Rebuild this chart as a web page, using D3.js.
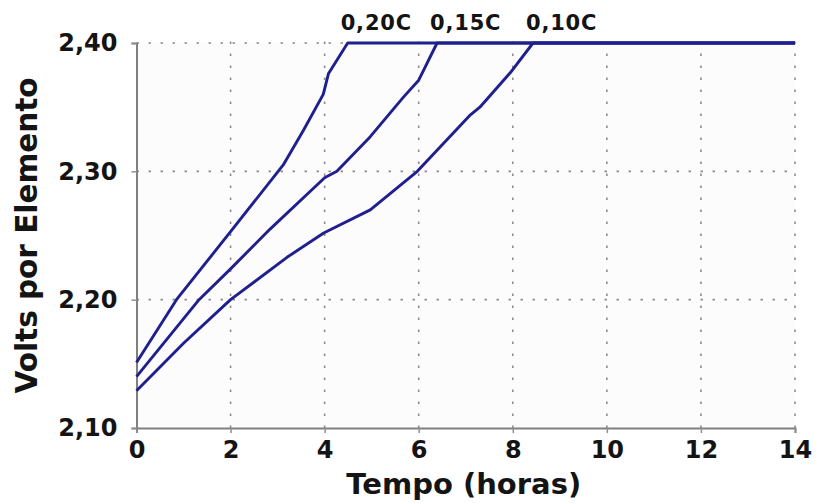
<!DOCTYPE html>
<html><head><meta charset="utf-8">
<script src="https://cdn.jsdelivr.net/npm/d3@7"></script>
<style>
html,body{margin:0;padding:0;background:#fff;}
text{font-family:"DejaVu Sans",Verdana,sans-serif;font-weight:bold;}
</style></head>
<body>
<svg id="chart" width="818" height="503"></svg>
<script>
// ---- data ----
const seriesNames = ["0,20C", "0,15C", "0,10C"];
const hours20 = [0, 0.85, 2, 3.12, 3.55, 3.97, 4.08, 4.49, 14];
const volts20 = [2.151, 2.200, 2.253, 2.305, 2.332, 2.360, 2.376, 2.400, 2.400];
const hours15 = [0, 1.33, 2, 2.84, 4, 4.26, 4.97, 5.68, 6.0, 6.39, 14];
const volts15 = [2.140, 2.200, 2.224, 2.255, 2.295, 2.300, 2.327, 2.358, 2.371, 2.400, 2.400];
const hours10 = [0, 1, 2, 3.2, 3.98, 4.97, 5.97, 7.1, 7.3, 7.95, 8.43, 14];
const volts10 = [2.129, 2.166, 2.200, 2.233, 2.252, 2.270, 2.300, 2.344, 2.350, 2.377, 2.400, 2.400];
const xTicks = [0, 2, 4, 6, 8, 10, 12, 14];
const yTicks = [2.10, 2.20, 2.30, 2.40];
const xTitle = "Tempo (horas)";
const yTitle = "Volts por Elemento";

const series = [
  {name: seriesNames[0], xs: hours20, ys: volts20},
  {name: seriesNames[1], xs: hours15, ys: volts15},
  {name: seriesNames[2], xs: hours10, ys: volts10}
].map(s => ({name: s.name, pts: s.xs.map((x, i) => [x, s.ys[i]])}));

// ---- layout ----
const W = 818, H = 503;
const m = {left: 136.5, right: 23, top: 43, bottom: 75};
const svg = d3.select("#chart");
const x = d3.scaleLinear().domain([0, 14]).range([m.left, W - m.right]);
const y = d3.scaleLinear().domain([2.10, 2.40]).range([H - m.bottom, m.top]);
const fmt = d => d.toFixed(2).replace(".", ",");

// plot background
svg.append("rect").attr("x", x(0)).attr("y", y(2.40))
  .attr("width", x(14) - x(0)).attr("height", y(2.10) - y(2.40))
  .attr("fill", "#fcfcfc");

// grid
const grid = svg.append("g").attr("stroke", "#8c8c8c").attr("stroke-width", 1.6)
  .attr("stroke-dasharray", "2.5,9.5");
grid.selectAll("line.v").data(xTicks.filter(d => d > 0)).join("line")
  .attr("x1", d => x(d)).attr("x2", d => x(d))
  .attr("y1", y(2.10)).attr("y2", y(2.40) - 3);
grid.selectAll("line.h").data(yTicks.filter(d => d > 2.10)).join("line")
  .attr("x1", x(0)).attr("x2", x(14))
  .attr("y1", d => y(d)).attr("y2", d => y(d));

// axes
const xAxis = svg.append("g").attr("transform", `translate(0,${y(2.10)})`)
  .call(d3.axisBottom(x).tickValues(xTicks).tickFormat(d3.format("d")).tickSize(5).tickPadding(8));
const yAxis = svg.append("g").attr("transform", `translate(${x(0)},0)`)
  .call(d3.axisLeft(y).tickValues(yTicks).tickFormat(fmt).tickSize(5).tickPadding(14));
[xAxis, yAxis].forEach(a => {
  a.select(".domain").attr("stroke", "#808080").attr("stroke-width", 2);
  a.selectAll(".tick line").attr("stroke", "#909090").attr("stroke-width", 1.5);
  a.selectAll(".tick text").attr("fill", "#141414").style("font-size", "24px")
    .style("font-family", '"DejaVu Sans",Verdana,sans-serif').style("font-weight", "bold");
});

// lines
const line = d3.line().x(d => x(d[0])).y(d => y(d[1]));
svg.append("g").selectAll("path").data(series).join("path")
  .attr("d", d => line(d.pts))
  .attr("fill", "none").attr("stroke", "#1f1f8e").attr("stroke-width", 2.9)
  .attr("stroke-linejoin", "round");

// curve labels (at the point where each reaches 2,40)
svg.append("g").selectAll("text").data(series).join("text")
  .attr("x", d => x(d.pts.find(p => p[1] >= 2.40)[0]) - 7)
  .attr("y", y(2.40) - 13)
  .attr("fill", "#141414").style("font-size", "21px").style("letter-spacing", "0.8px")
  .text(d => d.name);

// titles
svg.append("text").attr("x", (x(0) + x(14)) / 2 - 2).attr("y", 494)
  .attr("text-anchor", "middle").attr("fill", "#141414").style("font-size", "29px")
  .text(xTitle);
svg.append("text").attr("transform", `translate(37,${(y(2.10) + y(2.40)) / 2}) rotate(-90)`)
  .attr("text-anchor", "middle").attr("fill", "#141414").style("font-size", "29.5px")
  .text(yTitle);
</script>
</body></html>
